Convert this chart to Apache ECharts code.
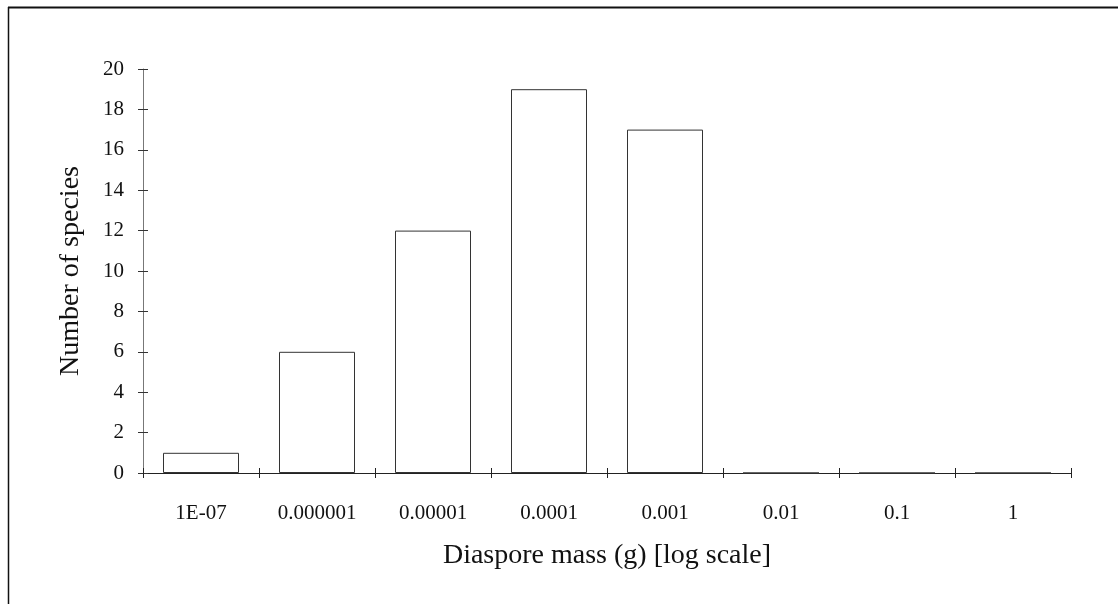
<!DOCTYPE html>
<html><head><meta charset="utf-8">
<script src="https://cdn.jsdelivr.net/npm/echarts@6/dist/echarts.min.js"></script>
<style>html,body{margin:0;padding:0;background:#fff}#c{width:1118px;height:604px}</style>
</head><body><div id="c"></div>
<script>
const categories = ['1E-07','0.000001','0.00001','0.0001','0.001','0.01','0.1','1'];
const speciesCounts = [1, 6, 12, 19, 17, 0, 0, 0];
const yMin = 0, yMax = 20, yStep = 2;
const xTitle = 'Diaspore mass (g) [log scale]';
const yTitle = 'Number of species';

const chart = echarts.init(document.getElementById('c'), null, {renderer:'canvas'});
const font = '"Liberation Serif", "DejaVu Serif", serif';
const gridCfg = {left:143, right:47, top:69, bottom:131};
chart.setOption({
  animation:false,
  backgroundColor:'#fff',
  textStyle:{fontFamily:font, color:'#000'},
  grid: gridCfg,
  graphic:[
    {type:'line', shape:{x1:8,y1:7.5,x2:1118,y2:7.5}, style:{stroke:'#111', lineWidth:2}, silent:true},
    {type:'line', shape:{x1:8.5,y1:7,x2:8.5,y2:604}, style:{stroke:'#111', lineWidth:1.5}, silent:true}
  ],
  xAxis:[{
    type:'category', data:categories, boundaryGap:true,
    axisLine:{lineStyle:{color:'#222', width:1}},
    axisTick:{show:true, alignWithLabel:false, length:5, lineStyle:{color:'#222'}},
    axisLabel:{fontFamily:font, fontSize:21, color:'#111', margin:30},
    name:xTitle, nameLocation:'middle', nameGap:69,
    nameTextStyle:{fontFamily:font, fontSize:28, color:'#111'}
  },{
    type:'category', data:categories, boundaryGap:true, position:'bottom',
    axisLine:{show:false},
    axisTick:{show:true, inside:true, length:5, lineStyle:{color:'#222'}},
    axisLabel:{show:false}
  }],
  yAxis:[{
    type:'value', min:yMin, max:yMax, interval:yStep,
    splitLine:{show:false},
    axisLine:{show:true, lineStyle:{color:'#777', width:1}},
    axisTick:{show:true, length:5, lineStyle:{color:'#333'}},
    axisLabel:{fontFamily:font, fontSize:21, color:'#111', margin:19},
    name:yTitle, nameLocation:'middle', nameGap:58,
    nameTextStyle:{fontFamily:font, fontSize:28, color:'#111'}
  },{
    type:'value', min:yMin, max:yMax, interval:yStep, position:'left',
    splitLine:{show:false},
    axisLine:{show:false},
    axisTick:{show:true, inside:true, length:5, lineStyle:{color:'#333'}},
    axisLabel:{show:false}
  }],
  series:[{
    type:'bar', data:speciesCounts, barWidth:76,
    itemStyle:{color:'#fff', borderColor:'#333', borderWidth:1}
  }]
});
</script></body></html>
